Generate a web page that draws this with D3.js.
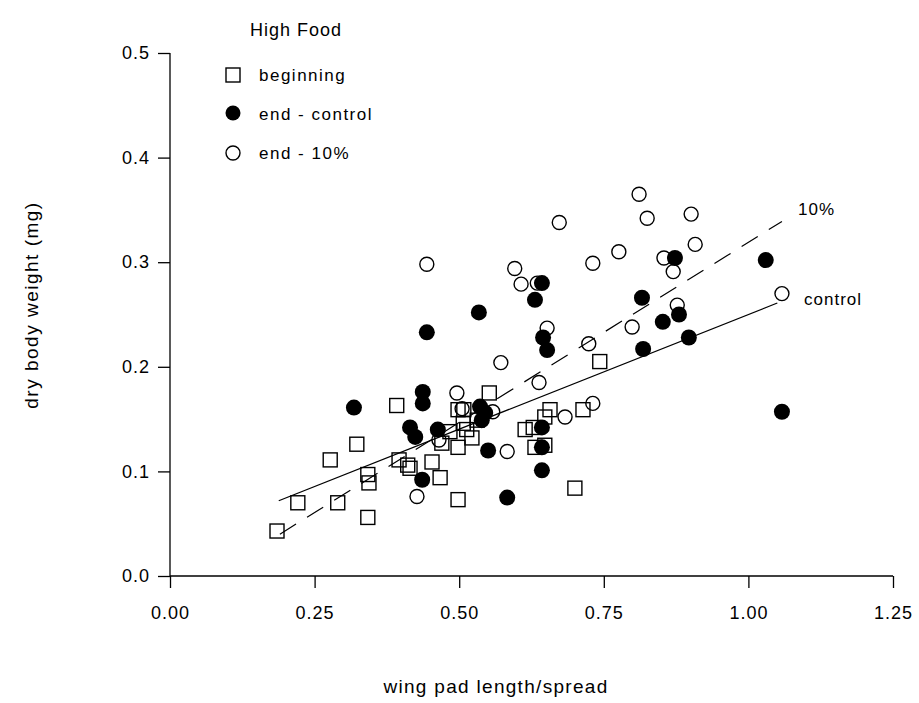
<!DOCTYPE html>
<html><head><meta charset="utf-8">
<script src="https://cdn.jsdelivr.net/npm/d3@7"></script>
<style>body{margin:0;background:#fff}svg{display:block}text{font-family:"Liberation Sans",Arial,sans-serif;fill:#000}</style>
</head><body>
<script>
const xTicks = [0, 0.25, 0.5, 0.75, 1.0, 1.25];
const yTicks = [0, 0.1, 0.2, 0.3, 0.4, 0.5];
const beginning = [
  [0.185,0.043],[0.221,0.070],[0.277,0.111],[0.290,0.070],[0.323,0.126],[0.342,0.097],[0.344,0.089],
  [0.342,0.056],[0.392,0.163],[0.396,0.111],[0.411,0.106],[0.415,0.103],[0.453,0.109],[0.467,0.094],
  [0.498,0.073],[0.484,0.138],[0.470,0.127],[0.498,0.123],[0.522,0.132],[0.513,0.140],[0.498,0.159],
  [0.508,0.159],[0.507,0.146],[0.531,0.149],[0.552,0.175],[0.614,0.140],[0.628,0.142],[0.657,0.159],
  [0.648,0.152],[0.631,0.123],[0.648,0.125],[0.714,0.159],[0.700,0.084],[0.743,0.205]
];
const endControl = [
  [0.318,0.161],[0.437,0.176],[0.437,0.165],[0.415,0.142],[0.424,0.133],[0.436,0.092],[0.463,0.140],
  [0.536,0.162],[0.545,0.156],[0.539,0.149],[0.550,0.120],[0.583,0.075],[0.643,0.142],[0.643,0.123],
  [0.643,0.101],[0.444,0.233],[0.534,0.252],[0.643,0.280],[0.631,0.264],[0.645,0.228],[0.652,0.216],
  [0.818,0.217],[0.816,0.266],[0.873,0.304],[0.880,0.250],[0.852,0.243],[0.897,0.228],[1.030,0.302],
  [1.058,0.157]
];
const end10 = [
  [0.427,0.076],[0.496,0.175],[0.558,0.157],[0.583,0.119],[0.638,0.185],[0.683,0.152],[0.731,0.165],
  [0.572,0.204],[0.444,0.298],[0.596,0.294],[0.607,0.279],[0.635,0.280],[0.731,0.299],[0.776,0.310],
  [0.652,0.237],[0.724,0.222],[0.673,0.338],[0.811,0.365],[0.825,0.342],[0.901,0.346],[0.908,0.317],
  [0.854,0.304],[0.870,0.291],[0.877,0.259],[0.799,0.238],[1.058,0.270],[0.465,0.130],[0.505,0.160]
];
// regression lines [x, y] endpoints
const controlLine = [[0.188,0.072],[1.050,0.261]];
const tenLine = [[0.190,0.040],[1.058,0.339]];
const legendLabels = ["beginning","end - control","end - 10%"];

const W = 919, H = 703;
const FONT = '"Liberation Sans",Arial,sans-serif';
const svg = d3.select("body").append("svg").attr("width", W).attr("height", H);
const x = d3.scaleLinear().domain([0, 1.25]).range([170, 893]);
const y = d3.scaleLinear().domain([0, 0.5]).range([576, 53]);

const gx = svg.append("g").attr("transform", "translate(0,576)")
  .call(d3.axisBottom(x).tickValues(xTicks).tickFormat(d3.format(".2f")).tickSize(12).tickPadding(18));
const gy = svg.append("g").attr("transform", "translate(170,0)")
  .call(d3.axisLeft(y).tickValues(yTicks).tickFormat(d3.format(".1f")).tickSize(12).tickPadding(8));
[gx, gy].forEach(g => {
  g.select(".domain").attr("stroke", "#000").attr("stroke-width", 1.3);
  g.selectAll(".tick line").attr("stroke", "#000").attr("stroke-width", 1.3);
  g.selectAll("text").attr("font-size", 18).attr("font-family", FONT).attr("fill", "#000").attr("letter-spacing", "1px");
});
gy.select(".domain").attr("d", "M0,576V53");
gx.select(".domain").attr("d", "M170,0H893");

svg.append("text").attr("x", 496).attr("y", 693).attr("text-anchor", "middle").attr("font-size", 19).attr("letter-spacing", "1.3px").text("wing pad length/spread");
svg.append("text").attr("transform", "translate(38,305) rotate(-90)").attr("text-anchor", "middle").attr("font-size", 19).attr("letter-spacing", "1.5px").text("dry body weight (mg)");

const line = d3.line().x(d => x(d[0])).y(d => y(d[1]));
svg.append("path").attr("d", line(controlLine)).attr("stroke", "#000").attr("stroke-width", 1.2).attr("fill", "none");
svg.append("path").attr("d", line(tenLine)).attr("stroke", "#000").attr("stroke-width", 1.2).attr("fill", "none").attr("stroke-dasharray", "19,13");

const S = 14;
svg.append("g").selectAll("rect").data(beginning).join("rect")
  .attr("x", d => x(d[0]) - S/2).attr("y", d => y(d[1]) - S/2).attr("width", S).attr("height", S)
  .attr("fill", "none").attr("stroke", "#000").attr("stroke-width", 1.4);
svg.append("g").selectAll("circle").data(end10).join("circle")
  .attr("cx", d => x(d[0])).attr("cy", d => y(d[1])).attr("r", 7)
  .attr("fill", "none").attr("stroke", "#000").attr("stroke-width", 1.4);
svg.append("g").selectAll("circle").data(endControl).join("circle")
  .attr("cx", d => x(d[0])).attr("cy", d => y(d[1])).attr("r", 8)
  .attr("fill", "#000");

svg.append("text").attr("x", 798).attr("y", 215).attr("font-size", 17).attr("letter-spacing", "1px").text("10%");
svg.append("text").attr("x", 804).attr("y", 305).attr("font-size", 17).attr("letter-spacing", "1px").text("control");

// legend
svg.append("text").attr("x", 250).attr("y", 36).attr("font-size", 18).attr("letter-spacing", "1px").text("High Food");
const lg = svg.append("g");
lg.append("rect").attr("x", 226).attr("y", 68).attr("width", 14).attr("height", 14).attr("fill", "none").attr("stroke", "#000").attr("stroke-width", 1.4);
lg.append("circle").attr("cx", 233).attr("cy", 113).attr("r", 7.5).attr("fill", "#000");
lg.append("circle").attr("cx", 233).attr("cy", 153).attr("r", 7).attr("fill", "none").attr("stroke", "#000").attr("stroke-width", 1.4);
legendLabels.forEach((t, i) => {
  lg.append("text").attr("x", 259).attr("y", 81 + i * 39).attr("font-size", 17).attr("letter-spacing", "1.5px").text(t);
});
</script>
</body></html>
